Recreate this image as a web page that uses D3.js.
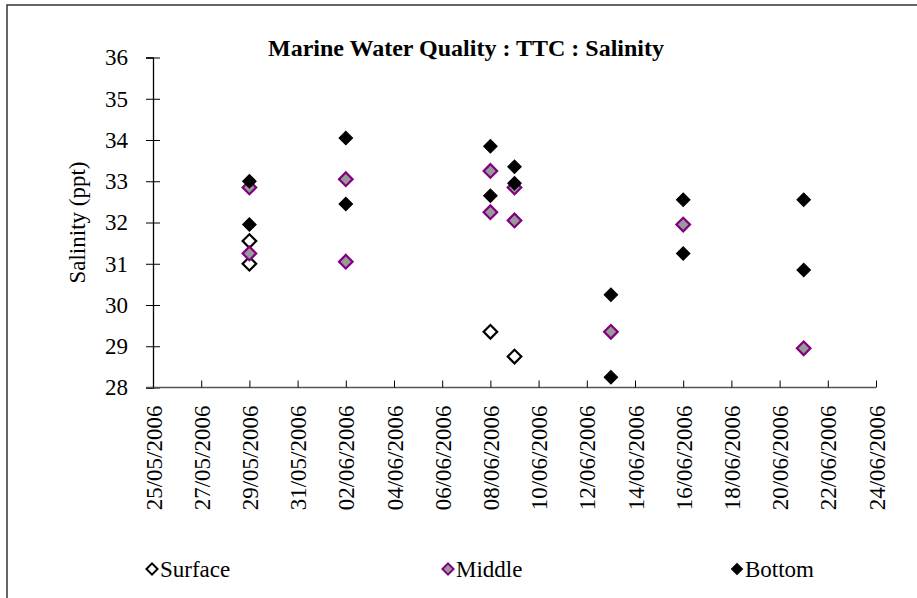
<!DOCTYPE html>
<html>
<head>
<meta charset="utf-8">
<script src="https://cdn.jsdelivr.net/npm/d3@7"></script>
<style>
  body { margin: 0; background: #fff; }
  svg, svg text { font-family: "Liberation Serif", "Times New Roman", Times, "DejaVu Serif", serif; }
</style>
</head>
<body>
<div id="chart"></div>
<script>
// sampling dates and readings (ppt)
const surfaceDates = ['2006-05-29', '2006-05-29', '2006-06-08', '2006-06-09'];
const surfaceValues = [31.0, 31.55, 29.35, 28.75];

const middleDates = ['2006-05-29', '2006-05-29', '2006-06-02', '2006-06-02', '2006-06-08', '2006-06-08',
  '2006-06-09', '2006-06-09', '2006-06-13', '2006-06-16', '2006-06-21'];
const middleValues = [31.25, 32.85, 33.05, 31.05, 33.25, 32.25, 32.85, 32.05, 29.35, 31.95, 28.95];

const bottomDates = ['2006-05-29', '2006-05-29', '2006-06-02', '2006-06-02', '2006-06-08', '2006-06-08',
  '2006-06-09', '2006-06-09', '2006-06-13', '2006-06-13', '2006-06-16', '2006-06-16', '2006-06-21', '2006-06-21'];
const bottomValues = [33.0, 31.95, 34.05, 32.45, 33.85, 32.65, 33.35, 32.95, 30.25, 28.25, 32.55, 31.25, 32.55, 30.85];

const yTicks = [28, 29, 30, 31, 32, 33, 34, 35, 36];
const seriesNames = ['Surface', 'Middle', 'Bottom'];

const width = 917, height = 598;
const margin = { top: 57.5, right: 41, bottom: 210.5, left: 153 };
const serif = '"Liberation Serif", "Times New Roman", Times, serif';

const parse = d3.utcParse('%Y-%m-%d');
const fmt = d3.utcFormat('%d/%m/%Y');

const series = [
  { name: seriesNames[0], fill: '#ffffff', stroke: '#000000',
    pts: surfaceDates.map((d, i) => ({ date: parse(d), v: surfaceValues[i] })) },
  { name: seriesNames[1], fill: '#999999', stroke: '#800080',
    pts: middleDates.map((d, i) => ({ date: parse(d), v: middleValues[i] })) },
  { name: seriesNames[2], fill: '#000000', stroke: '#000000',
    pts: bottomDates.map((d, i) => ({ date: parse(d), v: bottomValues[i] })) }
];

const svg = d3.select('#chart').append('svg')
  .attr('width', width)
  .attr('height', height)
  .attr('font-family', serif);

// outer chart frame (runs off the right/bottom edge)
svg.append('rect')
  .attr('x', 7).attr('y', 5)
  .attr('width', 930).attr('height', 620)
  .attr('fill', 'none')
  .attr('stroke', '#333')
  .attr('stroke-width', 1.5);

const start = parse('2006-05-25'), end = parse('2006-06-24');

const x = d3.scaleUtc()
  .domain([start, end])
  .range([margin.left, width - margin.right]);

const y = d3.scaleLinear()
  .domain([28, 36])
  .range([height - margin.bottom, margin.top]);

const xTicks = d3.utcDay.range(start, d3.utcDay.offset(end, 1), 2);

// y axis
const yAxis = svg.append('g')
  .attr('transform', 'translate(' + margin.left + ',0)')
  .call(d3.axisLeft(y).tickValues(yTicks).tickSize(7).tickSizeInner(0).tickPadding(25));
yAxis.attr('font-family', serif).attr('font-size', 23);
yAxis.select('.domain').attr('stroke', '#000').attr('stroke-width', 1.3);
yAxis.selectAll('.tick line').attr('x1', -7).attr('x2', 7).attr('stroke', '#000');
yAxis.selectAll('.tick text').attr('fill', '#000');

// x axis
const xAxis = svg.append('g')
  .attr('transform', 'translate(0,' + y(28) + ')')
  .call(d3.axisBottom(x).tickValues(xTicks).tickFormat(fmt).tickSizeOuter(0).tickSizeInner(-7));
xAxis.attr('font-family', serif).attr('font-size', 23);
xAxis.select('.domain')
  .attr('d', 'M' + (margin.left - 7) + ',0H' + (width - margin.right))
  .attr('stroke', '#555').attr('stroke-width', 1.5);
xAxis.selectAll('.tick line').attr('stroke', '#000');
xAxis.selectAll('.tick text')
  .attr('fill', '#000')
  .attr('text-anchor', 'end')
  .attr('dy', '0.35em')
  .attr('transform', 'translate(0,18) rotate(-90)')
  .attr('x', 0).attr('y', 0);

// points
const diamond = d3.symbol().type(d3.symbolSquare).size(92);
series.forEach(s => {
  svg.append('g').selectAll('path')
    .data(s.pts)
    .join('path')
    .attr('d', diamond)
    .attr('transform', d => 'translate(' + x(d.date) + ',' + y(d.v) + ') rotate(45)')
    .attr('fill', s.fill)
    .attr('stroke', s.stroke)
    .attr('stroke-width', s.name === 'Bottom' ? 1 : 2.2);
});

// title
svg.append('text')
  .attr('x', 466).attr('y', 56)
  .attr('text-anchor', 'middle')
  .attr('font-size', 24)
  .attr('font-weight', 'bold')
  .text('Marine Water Quality : TTC : Salinity');

// y axis title
svg.append('text')
  .attr('transform', 'translate(85,' + ((y(28) + y(36)) / 2) + ') rotate(-90)')
  .attr('text-anchor', 'middle')
  .attr('font-size', 23)
  .text('Salinity (ppt)');

// legend
const legendX = [152, 448, 737];
const legendSym = d3.symbol().type(d3.symbolSquare).size(62);
const legend = svg.append('g');
series.forEach((s, i) => {
  const g = legend.append('g').attr('transform', 'translate(' + legendX[i] + ',569)');
  g.append('path')
    .attr('d', legendSym)
    .attr('transform', 'rotate(45)')
    .attr('fill', s.fill)
    .attr('stroke', s.stroke)
    .attr('stroke-width', s.name === 'Bottom' ? 1 : 2);
  g.append('text')
    .attr('x', 8).attr('y', 0)
    .attr('dy', '0.35em')
    .attr('font-size', 23)
    .text(s.name);
});
</script>
</body>
</html>
